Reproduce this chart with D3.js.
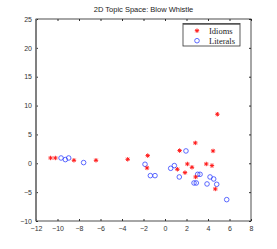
<html>
 <head>
  <title>2D Topic Space</title>
  <script src="https://cdn.jsdelivr.net/npm/d3@7"></script>
  <style>
    body { margin: 0; background: #fff; }
    text { font-family: "Liberation Sans", Arial, sans-serif; }
  </style>
 </head>
 <body>
  <div id="draw"></div>
  <script>
    // idioms (red asterisks)
    var idiomX = [-10.64, -10.2, -8.47, -6.42, -3.47, -1.61, -1.67, 1.36, 1.15, 1.86, 2.08, 2.51, 2.82, 2.85, 3.84, 4.37, 4.47, 4.68, 4.87];
    var idiomY = [0.92, 0.92, 0.52, 0.52, 0.69, 1.33, -0.81, 2.2, -1.04, -1.62, -0.12, -0.69, 3.53, -2.37, -0.12, -0.4, 2.14, -4.45, 8.5];
    // literals (blue circles)
    var literalX = [-9.67, -9.27, -8.96, -7.57, -1.86, -1.36, -0.93, 0.53, 0.87, 1.33, 1.95, 2.7, 2.91, 3.04, 3.26, 3.91, 4.19, 4.53, 4.81, 5.74];
    var literalY = [0.92, 0.64, 0.92, 0.12, -0.17, -2.14, -2.14, -0.87, -0.4, -2.37, 2.14, -3.41, -3.41, -1.91, -1.91, -3.58, -2.37, -2.72, -3.64, -6.3];
    var xTicks = [-12, -10, -8, -6, -4, -2, 0, 2, 4, 6, 8];
    var yTicks = [-10, -5, 0, 5, 10, 15, 20, 25];
    var legendLabels = ["Idioms", "Literals"];

    var w = 277, h = 249;
    var pl = 36, pr = 251, pt = 19, pb = 221;

    var svg = d3.select('#draw').append('svg').attr('width', w).attr('height', h);

    var x = d3.scaleLinear().domain([-12, 8]).range([pl, pr]);
    var y = d3.scaleLinear().domain([-10, 25]).range([pb, pt]);
    var fmt = function(d) { return d < 0 ? "\u2212" + Math.abs(d) : String(d); };

    // title
    svg.append('text').attr('x', (pl + pr) / 2).attr('y', 12)
      .attr('text-anchor', 'middle').attr('font-size', 7.5).attr('fill', '#222')
      .text('2D Topic Space: Blow Whistle');

    // axes with inward ticks
    var styleAxis = function(g) {
      g.select('.domain').remove();
      g.selectAll('line').attr('stroke', '#333');
      g.selectAll('text').attr('font-size', 7).attr('fill', '#333')
        .attr('font-family', null);
    };
    svg.append('g').attr('transform', 'translate(0,' + pb + ')')
      .call(d3.axisBottom(x).tickValues(xTicks).tickFormat(fmt).tickSizeInner(-2).tickPadding(5))
      .call(styleAxis);
    svg.append('g').attr('transform', 'translate(0,' + pt + ')')
      .call(d3.axisTop(x).tickValues(xTicks).tickFormat('').tickSizeInner(-2))
      .call(styleAxis);
    svg.append('g').attr('transform', 'translate(' + pl + ',0)')
      .call(d3.axisLeft(y).tickValues(yTicks).tickFormat(fmt).tickSizeInner(-2).tickPadding(4))
      .call(styleAxis);
    svg.append('g').attr('transform', 'translate(' + pr + ',0)')
      .call(d3.axisRight(y).tickValues(yTicks).tickFormat('').tickSizeInner(-2))
      .call(styleAxis);

    // frame
    svg.append('rect').attr('x', pl).attr('y', pt).attr('width', pr - pl).attr('height', pb - pt)
      .attr('fill', 'none').attr('stroke', '#222').attr('stroke-width', 0.8);
    svg.append('line').attr('x1', pl).attr('x2', pl).attr('y1', pt).attr('y2', pb)
      .attr('stroke', '#777').attr('stroke-width', 1.6);

    function asterisk(g, cx, cy, r) {
      [0, 45, 90, 135].forEach(function(a) {
        var dx = r * Math.cos(a * Math.PI / 180), dy = r * Math.sin(a * Math.PI / 180);
        g.append('line').attr('x1', cx - dx).attr('y1', cy - dy).attr('x2', cx + dx).attr('y2', cy + dy)
          .attr('stroke', '#ff1a1a').attr('stroke-width', 1);
      });
    }

    var pts = svg.append('g');
    literalX.forEach(function(d, i) {
      pts.append('circle').attr('cx', x(d)).attr('cy', y(literalY[i])).attr('r', 2.3)
        .attr('fill', 'none').attr('stroke', '#3344ff').attr('stroke-width', 0.8);
    });
    idiomX.forEach(function(d, i) {
      asterisk(pts, x(d), y(idiomY[i]), 2.2);
    });

    // legend
    var lg = svg.append('g');
    lg.append('rect').attr('x', 183).attr('y', 23.5).attr('width', 57).attr('height', 22.5)
      .attr('fill', '#fff').attr('stroke', '#333').attr('stroke-width', 0.8);
    lg.append('line').attr('x1', 183).attr('x2', 240).attr('y1', 24).attr('y2', 24)
      .attr('stroke', '#555').attr('stroke-width', 1.4);
    asterisk(lg, 197, 30.7, 2.2);
    lg.append('circle').attr('cx', 197).attr('cy', 40.7).attr('r', 2.3)
      .attr('fill', 'none').attr('stroke', '#3344ff').attr('stroke-width', 0.8);
    legendLabels.forEach(function(t, i) {
      lg.append('text').attr('x', 209).attr('y', 33.5 + i * 10).attr('font-size', 8.5)
        .style('font-family', '"Liberation Serif", "Times New Roman", serif').attr('fill', '#222')
        .text(t);
    });
  </script>
 </body>
</html>
